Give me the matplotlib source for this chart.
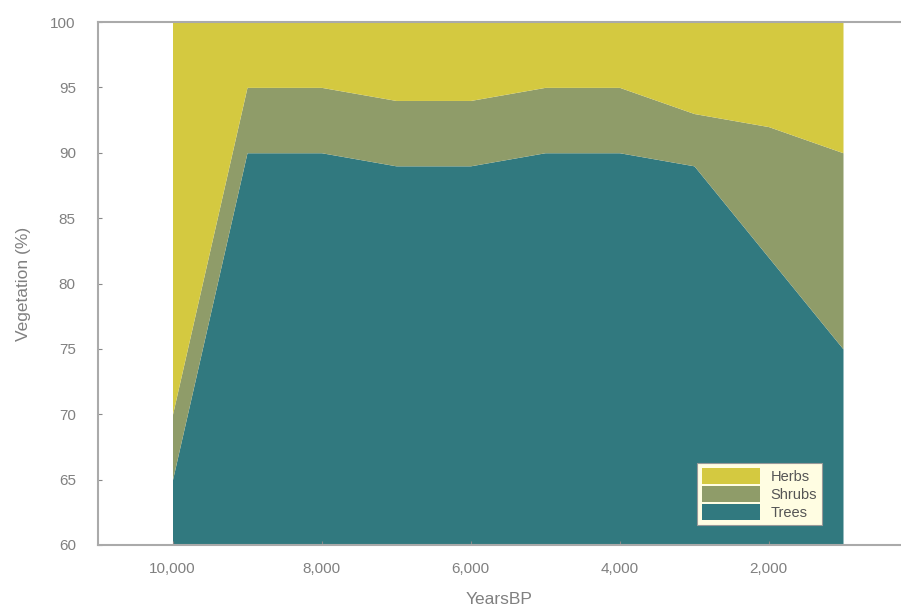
import matplotlib
matplotlib.use("Agg")
import matplotlib.pyplot as plt
import numpy as np

plt.rcParams['font.family'] = ['Liberation Sans', 'DejaVu Sans']

years = [10000, 9000, 8000, 7000, 6000, 5000, 4000, 3000, 2000, 1000]
trees = [65, 90, 90, 89, 89, 90, 90, 89, 82, 75]
trees_shrubs = [70, 95, 95, 94, 94, 95, 95, 93, 92, 90]
shrubs = [s - t for s, t in zip(trees_shrubs, trees)]
herbs = [100 - s for s in trees_shrubs]
labels = ["Trees", "Shrubs", "Herbs"]
colors = ["#31797f", "#8f9c69", "#d4c940"]
xticks = [10000, 8000, 6000, 4000, 2000]
xticklabels = ["10,000", "8,000", "6,000", "4,000", "2,000"]
yticks = [60, 65, 70, 75, 80, 85, 90, 95, 100]

fig = plt.figure(figsize=(9.01, 6.13), dpi=100)
ax = fig.add_axes([98/901, 1 - 545/613, (901 - 98)/901, (545 - 22)/613])

stack_base = np.zeros(len(years))
polys = []
for vals, lab, col in zip([trees, shrubs, herbs], labels, colors):
    top = stack_base + np.array(vals, dtype=float)
    lower = np.full(len(years), 60.0) if lab == "Trees" else stack_base
    p = ax.fill_between(years, lower, top, color=col, linewidth=0, label=lab)
    polys.append(p)
    stack_base = top

ax.set_xlim(11000, 11000 - 803 / 0.0745)
ax.set_ylim(60, 100)
ax.set_xticks(xticks)
ax.set_xticklabels(xticklabels)
ax.set_yticks(yticks)

gray = "#aaaaaa"
for s in ["top", "bottom", "left"]:
    ax.spines[s].set_color(gray)
    ax.spines[s].set_linewidth(1.5)
ax.spines["right"].set_visible(False)
ax.tick_params(axis="both", direction="in", length=3, color="#888888",
               labelcolor="#808080", labelsize=11)
ax.tick_params(axis="x", pad=12)
ax.tick_params(axis="y", pad=16)

ax.set_xlabel("YearsBP", color="#808080", fontsize=12.5, labelpad=12)
ax.set_ylabel("Vegetation (%)", color="#808080", fontsize=12.5, labelpad=14)

handles = [polys[2], polys[1], polys[0]]
leg = ax.legend(handles, ["Herbs", "Shrubs", "Trees"], loc="lower left",
                frameon=True, fancybox=False, fontsize=10.5, handlelength=4.0,
                handleheight=1.35, labelspacing=0.1, borderpad=0.35,
                handletextpad=0.7, borderaxespad=0)
leg.set_bbox_to_anchor((697/901, 1 - 525/613), transform=fig.transFigure)
fr = leg.get_frame()
fr.set_facecolor("#fffde2")
fr.set_edgecolor("#999999")
fr.set_linewidth(0.8)
fr.set_alpha(1)
for t in leg.get_texts():
    t.set_color("#555555")

fig.savefig("out.png", dpi=100)
